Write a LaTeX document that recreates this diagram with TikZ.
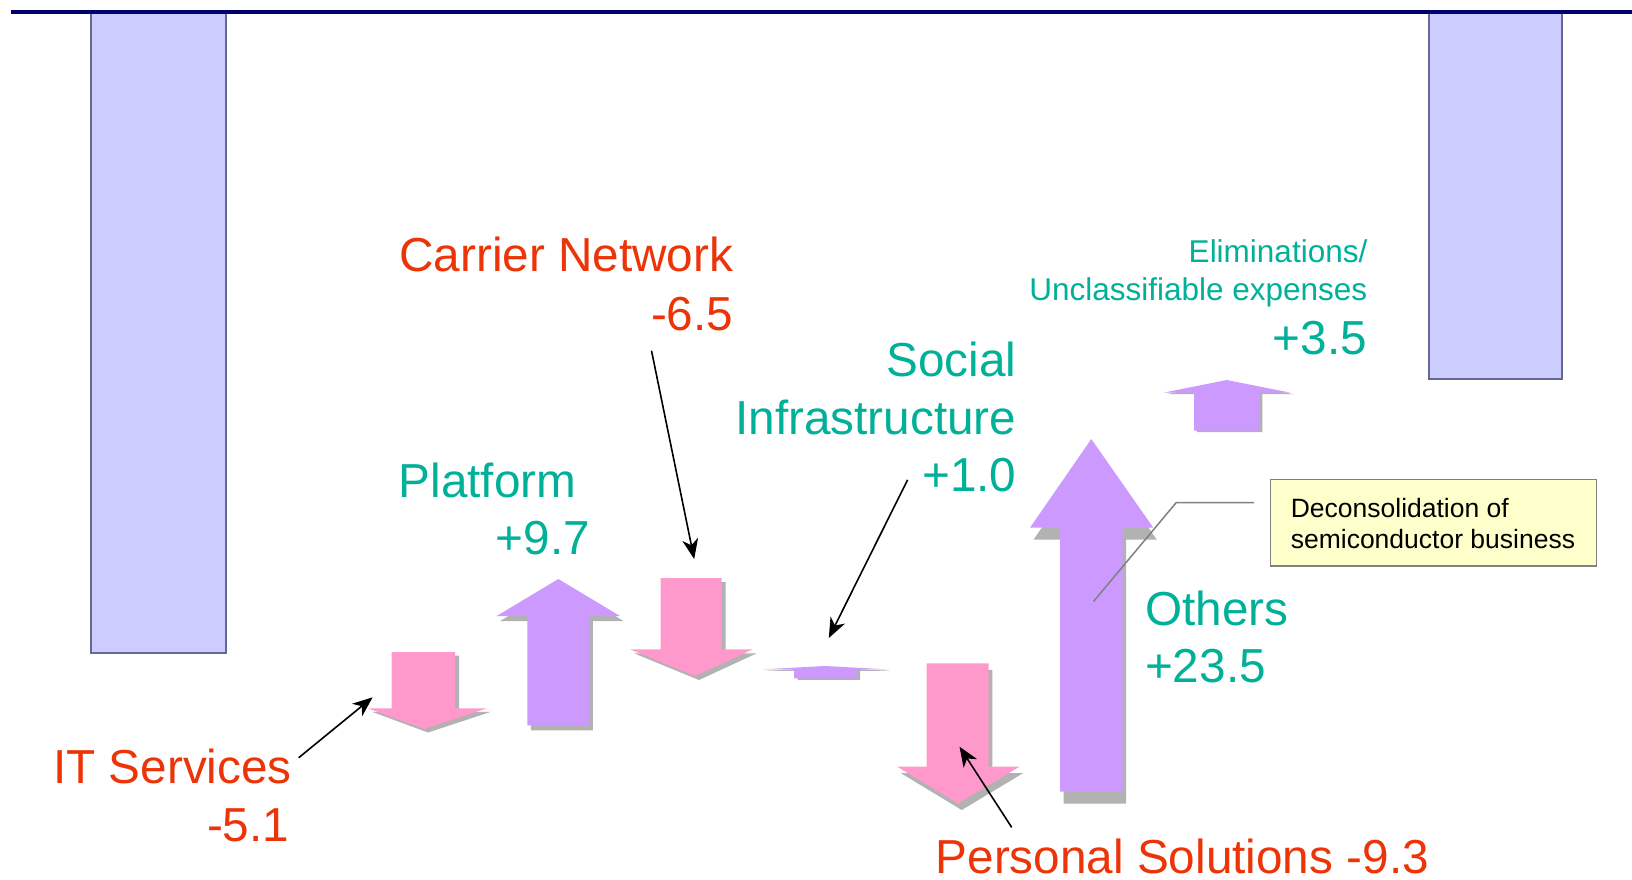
\documentclass[tikz,border=0pt]{standalone}
\usepackage{fontspec}
\setmainfont{Liberation Sans}
\definecolor{pinkc}{RGB}{255,153,204}
\definecolor{violc}{RGB}{204,153,255}
\definecolor{shadc}{RGB}{178,178,178}
\definecolor{barfill}{RGB}{204,204,255}
\definecolor{barline}{RGB}{102,102,153}
\definecolor{navyc}{RGB}{0,0,110}
\definecolor{redt}{RGB}{236,52,8}
\definecolor{tealt}{RGB}{0,176,152}
\definecolor{notefill}{RGB}{255,255,204}
\definecolor{noteline}{RGB}{128,128,128}
% wingL shaftL tipX shaftR wingR tipY wingY baseY
\newcommand\arrowpoly[8]{(#1,#7) -- (#3,#6) -- (#5,#7) -- (#4,#7) -- (#4,#8) -- (#2,#8) -- (#2,#7) -- cycle}
\tikzset{
  bigtxt/.style={inner sep=0pt, font=\fontsize{47.7}{57}\selectfont},
  smalltxt/.style={inner sep=0pt, font=\fontsize{31.5}{38}\selectfont},
  redlab/.style={bigtxt, text=redt},
  teallab/.style={bigtxt, text=tealt},
  tealsmall/.style={smalltxt, text=tealt},
  pointer/.style={draw=black, line width=1.6pt, -{Stealth[length=20pt,width=16pt,inset=6pt]}},
  barbox/.style={fill=barfill, draw=barline, line width=2pt},
}
\usetikzlibrary{arrows.meta}
\begin{document}
\begin{tikzpicture}[x=1pt,y=-1pt]
\useasboundingbox (0,0) rectangle (1632,879);
\fill[white] (0,0) rectangle (1632,879);
% bars
\draw[barbox] (90.7,12) rectangle (225.7,652.6);
\draw[barbox] (1429,12) rectangle (1562.2,378.9);
\draw[navyc, line width=4pt] (11,11.5) -- (1632,11.5);
% block arrows: shadows
\fill[shadc, shift={(4,3.5)}] \arrowpoly{368}{391.7}{424}{455}{487}{729}{708.3}{652};
\fill[shadc, shift={(3.5,5)}] \arrowpoly{496.7}{527.3}{558.3}{589.3}{620}{579}{616}{725.4};
\fill[shadc, shift={(4,4)}] \arrowpoly{630}{660.7}{695}{721.7}{752.7}{676}{649.3}{578};
\fill[shadc, shift={(3.5,1.5)}] \arrowpoly{763.3}{794}{825}{856.7}{886.7}{666}{669.3}{678.3};
\fill[shadc, shift={(3.7,6.5)}] \arrowpoly{897.3}{926.7}{958}{988.7}{1019.3}{803.5}{766.7}{663.3};
\fill[shadc, shift={(3.5,12)}] \arrowpoly{1030}{1060}{1091.3}{1122.7}{1153.3}{439}{527.7}{791.7};
\fill[shadc, shift={(3,1.5)}] \arrowpoly{1163.3}{1194}{1226.7}{1259.4}{1290.6}{380}{392.7}{430.7};
% block arrows
\fill[pinkc] \arrowpoly{368}{391.7}{424}{455}{487}{729}{708.3}{652};
\fill[violc] \arrowpoly{496.7}{527.3}{558.3}{589.3}{620}{579}{616}{725.4};
\fill[pinkc] \arrowpoly{630}{660.7}{695}{721.7}{752.7}{676}{649.3}{578};
\fill[violc] \arrowpoly{763.3}{794}{825}{856.7}{886.7}{666}{669.3}{678.3};
\fill[pinkc] \arrowpoly{897.3}{926.7}{958}{988.7}{1019.3}{803.5}{766.7}{663.3};
\fill[violc] \arrowpoly{1030}{1060}{1091.3}{1122.7}{1153.3}{439}{527.7}{791.7};
\fill[violc] \arrowpoly{1163.3}{1194}{1226.7}{1259.4}{1290.6}{380}{392.7}{430.7};
% labels
\node[redlab, anchor=base east] (cn) at (733.5,271.6) {Carrier Network};
\node[redlab, anchor=base east] (cnv) at (733.5,330) {-6.5};
\node[teallab, anchor=base west] (pf) at (398.6,497.5) {Platform};
\node[teallab, anchor=base east] (pfv) at (590.1,554.8) {+9.7};
\node[teallab, anchor=base east] (si1) at (1016.5,376.8) {Social};
\node[teallab, anchor=base east] (si2) at (1016.5,434) {Infrastructure};
\node[teallab, anchor=base east] (siv) at (1016.5,491.3) {+1.0};
\node[tealsmall, anchor=base east] (el1) at (1367.5,262.7) {Eliminations/};
\node[tealsmall, anchor=base east] (el2) at (1367.5,300) {Unclassifiable expenses};
\node[teallab, anchor=base east] (elv) at (1367,354.3) {+3.5};
\node[teallab, anchor=base west] (ot) at (1144.9,625.5) {Others};
\node[teallab, anchor=base west] (otv) at (1144.9,682.8) {+23.5};
\node[redlab, anchor=base west] (it) at (53,783.3) {IT Services};
\node[redlab, anchor=base east] (itv) at (289.5,841.7) {-5.1};
\node[redlab, anchor=base west] (ps) at (935.5,873.8) {Personal Solutions -9.3};
% callout
\node[draw=noteline, fill=notefill, line width=1.5pt, minimum width=325.8pt, minimum height=86.4pt, anchor=north west, inner sep=0pt] (note) at (1269.8,478.8) {};
\node[inner sep=0pt, anchor=base west, font=\fontsize{26.5}{32}\selectfont] (nt1) at (1290.6,517) {Deconsolidation of};
\node[inner sep=0pt, anchor=base west, font=\fontsize{26.5}{32}\selectfont] (nt2) at (1290.6,548.5) {semiconductor business};
\coordinate (nc1) at (1254.2,502.7);
\coordinate (nc2) at (1176.1,502.7);
\coordinate (nc3) at (1093.5,601.5);
\draw[noteline, line width=1.5pt] (nc1) -- (nc2) -- (nc3);
% pointers
\coordinate (p1s) at (651.5,350.7); \coordinate (p1e) at (694.2,559);
\coordinate (p2s) at (907.6,479.8); \coordinate (p2e) at (828.8,638);
\coordinate (p3s) at (298.7,757.7); \coordinate (p3e) at (372.6,697.3);
\coordinate (p4s) at (1011.7,827.4); \coordinate (p4e) at (959.5,746.7);
\draw[pointer] (p1s) -- (p1e);
\draw[pointer] (p2s) -- (p2e);
\draw[pointer] (p3s) -- (p3e);
\draw[pointer] (p4s) -- (p4e);
\end{tikzpicture}
\end{document}
